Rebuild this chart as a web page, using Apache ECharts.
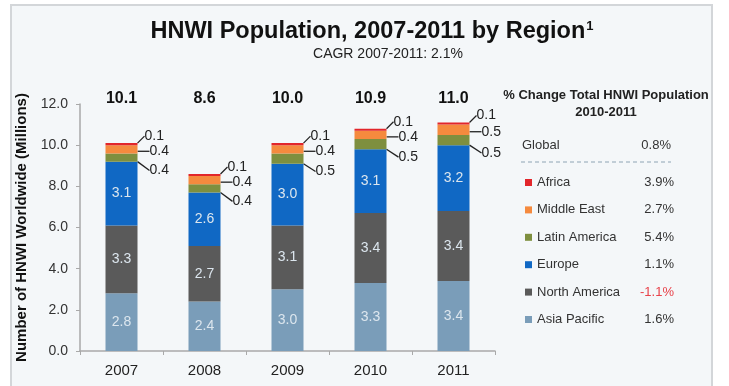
<!DOCTYPE html>
<html>
<head>
<meta charset="utf-8">
<script src="https://cdn.jsdelivr.net/npm/echarts@6/dist/echarts.min.js"></script>
<style>
html,body{margin:0;padding:0;background:#ffffff;}
#c{width:729px;height:386px;}
</style>
</head>
<body>
<div id="c"></div>
<script>
var years = ['2007', '2008', '2009', '2010', '2011'];
var totals = ['10.1', '8.6', '10.0', '10.9', '11.0'];
var regions = ['Asia Pacific', 'North America', 'Europe', 'Latin America', 'Middle East', 'Africa'];
var asiaPacific = [2.8, 2.4, 3.0, 3.3, 3.4];
var northAmerica = [3.3, 2.7, 3.1, 3.4, 3.4];
var europe = [3.1, 2.6, 3.0, 3.1, 3.2];
var latinAmerica = [0.4, 0.4, 0.5, 0.5, 0.5];
var middleEast = [0.4, 0.4, 0.4, 0.4, 0.5];
var africa = [0.1, 0.1, 0.1, 0.1, 0.1];
var change = ['1.6%', '-1.1%', '1.1%', '5.4%', '2.7%', '3.9%'];
var globalChange = '0.8%';
var yTicks = [0, 2, 4, 6, 8, 10, 12];

var FONT = 'Liberation Sans, Arial, sans-serif';
var values = [asiaPacific, northAmerica, europe, latinAmerica, middleEast, africa];
var colors = ['#7a9db9', '#5a5a5a', '#1068c4', '#7e8f3f', '#f58a3e', '#e2262b'];
var smallOffsets = {3: {dx: 8, dy: 13}, 4: {dx: 8, dy: 2}, 5: {dx: 3, dy: -8}};

var chart = echarts.init(document.getElementById('c'));

var series = regions.map(function (name, i) {
  var inside = i < 3;
  var s = {
    name: name,
    type: 'bar',
    stack: 'total',
    barWidth: 32,
    data: values[i],
    itemStyle: {color: colors[i]},
    label: inside ? {
      show: true, position: 'inside', color: '#dce6ee', fontSize: 14, fontFamily: FONT,
      formatter: function (p) { return p.value.toFixed(1); }
    } : {
      show: true, position: 'right', distance: 4, color: '#222', fontSize: 14, fontFamily: FONT,
      formatter: function (p) { return p.value.toFixed(1); }
    }
  };
  if (!inside) {
    s.labelLine = {show: true, lineStyle: {color: '#222', width: 1.3}};
    s.labelLayout = {dx: smallOffsets[i].dx, dy: smallOffsets[i].dy};
  }
  return s;
});

var legendNames = regions.slice().reverse();

var option = {
  backgroundColor: '#ffffff',
  animation: false,
  textStyle: {fontFamily: FONT},
  graphic: [
    {type: 'rect', z: -10, silent: true, shape: {x: 11, y: 5, width: 701, height: 395},
     style: {fill: '#f4f7f9', stroke: '#d3d6d9', lineWidth: 2}},
    {type: 'text', x: 372, y: 32, z: 10,
     style: {text: '{t|HNWI Population, 2007-2011 by Region}{s|1}', align: 'center', verticalAlign: 'middle',
       rich: {t: {fontSize: 23.5, fontWeight: 'bold', fill: '#111', fontFamily: FONT},
              s: {fontSize: 13, fontWeight: 'bold', fill: '#111', verticalAlign: 'top', padding: [0, 0, 11, 1], fontFamily: FONT}}}},
    {type: 'text', x: 388, y: 54, z: 10,
     style: {text: 'CAGR 2007-2011: 2.1%', fontSize: 14, fill: '#222', align: 'center', verticalAlign: 'middle', fontFamily: FONT}},
    {type: 'text', x: 606, y: 95, z: 10,
     style: {text: '% Change Total HNWI Population', fontSize: 13, fontWeight: 'bold', fill: '#222', align: 'center', verticalAlign: 'middle', fontFamily: FONT}},
    {type: 'text', x: 606, y: 112, z: 10,
     style: {text: '2010-2011', fontSize: 13, fontWeight: 'bold', fill: '#222', align: 'center', verticalAlign: 'middle', fontFamily: FONT}},
    {type: 'text', x: 522, y: 145, z: 10,
     style: {text: 'Global', fontSize: 13, fill: '#333', align: 'left', verticalAlign: 'middle', fontFamily: FONT}},
    {type: 'text', x: 671, y: 145, z: 10,
     style: {text: globalChange, fontSize: 13, fill: '#333', align: 'right', verticalAlign: 'middle', fontFamily: FONT}},
    {type: 'line', z: 10, shape: {x1: 521, y1: 162, x2: 671, y2: 162},
     style: {stroke: '#8ea4b4', lineWidth: 1, lineDash: [4, 3]}}
  ],
  legend: {
    orient: 'vertical',
    left: 520,
    top: 171,
    itemWidth: 7,
    itemHeight: 7,
    itemGap: 14.4,
    icon: 'rect',
    data: legendNames,
    selectedMode: false,
    formatter: function (name) {
      var idx = regions.indexOf(name);
      var v = change[idx];
      var key = v.charAt(0) === '-' ? 'r' : 'v';
      return '{n|' + name + '}{' + key + '|' + v + '}';
    },
    textStyle: {
      rich: {
        n: {width: 101, height: 15, fontSize: 13, color: '#333', fontFamily: FONT},
        v: {width: 36, height: 15, align: 'right', fontSize: 13, color: '#333', fontFamily: FONT},
        r: {width: 36, height: 15, align: 'right', fontSize: 13, color: '#e8424a', fontFamily: FONT}
      }
    }
  },
  grid: {left: 80, right: 234, top: 104, bottom: 35, containLabel: false},
  xAxis: [
    {
      type: 'category', data: years, position: 'bottom',
      axisLine: {lineStyle: {color: '#a9a9a9', width: 1.5}},
      axisTick: {show: true, length: 4, lineStyle: {color: '#a9a9a9'}},
      axisLabel: {color: '#222', fontSize: 15, margin: 12, fontFamily: FONT}
    },
    {
      type: 'category', data: years, position: 'top',
      axisLine: {show: false}, axisTick: {show: false},
      axisLabel: {color: '#111', fontSize: 16, fontWeight: 'bold', margin: -3, fontFamily: FONT,
        formatter: function (v, i) { return totals[i]; }}
    }
  ],
  yAxis: {
    type: 'value', min: yTicks[0], max: yTicks[yTicks.length - 1], interval: 2,
    name: 'Number of HNWI Worldwide (Millions)',
    nameLocation: 'middle', nameGap: 48, nameRotate: 90,
    nameTextStyle: {fontSize: 15, fontWeight: 'bold', color: '#111', fontFamily: FONT},
    axisLine: {show: true, lineStyle: {color: '#a9a9a9', width: 1.5}},
    axisTick: {show: true, length: 4, lineStyle: {color: '#a9a9a9'}},
    splitLine: {show: false},
    axisLabel: {color: '#333', fontSize: 14, margin: 12, fontFamily: FONT,
      formatter: function (v) { return v.toFixed(1); }}
  },
  series: series
};
chart.setOption(option);
</script>
</body>
</html>
